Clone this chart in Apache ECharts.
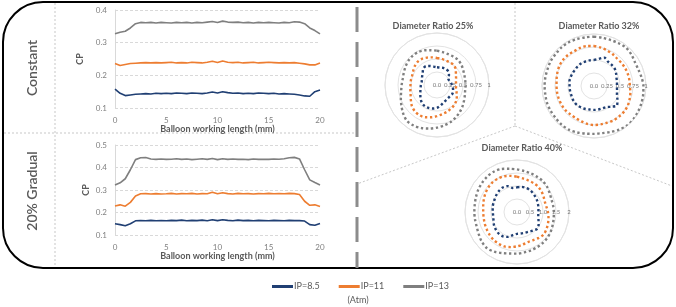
<!DOCTYPE html>
<html>
<head>
<meta charset="utf-8">
<script src="https://cdn.jsdelivr.net/npm/echarts@6/dist/echarts.min.js"></script>
<style>
  html, body { margin: 0; padding: 0; background: #fff; }
  #chart { width: 676px; height: 307px; }
</style>
</head>
<body>
<div id="chart"></div>
<script>
// balloon working length (mm)
var lengthMm = [0, 0.5, 1, 1.5, 2, 2.5, 3, 3.5, 4, 4.5, 5, 5.5, 6, 6.5, 7, 7.5, 8, 8.5, 9, 9.5,
  10, 10.5, 11, 11.5, 12, 12.5, 13, 13.5, 14, 14.5, 15, 15.5, 16, 16.5, 17, 17.5, 18, 18.5, 19, 19.5, 20];

// Constant profile, CP
var constIP85 = [0.158, 0.145, 0.138, 0.140, 0.142, 0.143, 0.144, 0.143, 0.145, 0.144, 0.145, 0.144, 0.146, 0.145, 0.144, 0.146, 0.145, 0.144, 0.146, 0.149,
  0.146, 0.150, 0.147, 0.145, 0.146, 0.144, 0.145, 0.144, 0.146, 0.145, 0.144, 0.145, 0.143, 0.144, 0.143, 0.142, 0.140, 0.137, 0.136, 0.150, 0.155];
var constIP11 = [0.236, 0.230, 0.233, 0.236, 0.237, 0.238, 0.239, 0.238, 0.239, 0.238, 0.239, 0.240, 0.238, 0.239, 0.238, 0.240, 0.239, 0.238, 0.240, 0.243,
  0.239, 0.244, 0.240, 0.239, 0.240, 0.238, 0.239, 0.240, 0.238, 0.239, 0.240, 0.239, 0.238, 0.239, 0.238, 0.239, 0.237, 0.235, 0.232, 0.232, 0.238];
var constIP13 = [0.327, 0.332, 0.335, 0.345, 0.358, 0.362, 0.361, 0.362, 0.360, 0.362, 0.361, 0.360, 0.362, 0.361, 0.362, 0.360, 0.362, 0.361, 0.363, 0.365,
  0.362, 0.366, 0.363, 0.362, 0.363, 0.361, 0.362, 0.360, 0.362, 0.361, 0.362, 0.361, 0.360, 0.362, 0.361, 0.364, 0.363, 0.358, 0.345, 0.337, 0.327];

// 20% Gradual profile, CP
var gradIP85 = [0.150, 0.146, 0.141, 0.150, 0.163, 0.164, 0.163, 0.165, 0.163, 0.164, 0.163, 0.165, 0.164, 0.166, 0.163, 0.165, 0.164, 0.166, 0.163, 0.168,
  0.164, 0.168, 0.165, 0.163, 0.166, 0.164, 0.165, 0.163, 0.165, 0.164, 0.163, 0.165, 0.164, 0.163, 0.165, 0.164, 0.164, 0.162, 0.146, 0.143, 0.151];
var gradIP11 = [0.229, 0.234, 0.228, 0.245, 0.273, 0.283, 0.284, 0.282, 0.284, 0.282, 0.283, 0.285, 0.282, 0.284, 0.283, 0.285, 0.282, 0.284, 0.283, 0.290,
  0.283, 0.288, 0.284, 0.282, 0.285, 0.283, 0.284, 0.282, 0.284, 0.283, 0.285, 0.283, 0.284, 0.283, 0.285, 0.284, 0.280, 0.250, 0.232, 0.234, 0.227];
var gradIP13 = [0.322, 0.332, 0.350, 0.390, 0.435, 0.443, 0.444, 0.438, 0.436, 0.438, 0.436, 0.437, 0.439, 0.436, 0.438, 0.435, 0.437, 0.439, 0.436, 0.440,
  0.435, 0.439, 0.436, 0.438, 0.436, 0.437, 0.435, 0.438, 0.436, 0.437, 0.436, 0.438, 0.437, 0.439, 0.443, 0.445, 0.438, 0.390, 0.345, 0.333, 0.322];

// cross-section angle, degrees clockwise from top
var angles = [0, 10, 20, 30, 40, 50, 60, 70, 80, 90, 100, 110, 120, 130, 140, 150, 160, 170,
  180, 190, 200, 210, 220, 230, 240, 250, 260, 270, 280, 290, 300, 310, 320, 330, 340, 350];

// Diameter Ratio 25%
var dr25IP85 = [0.34, 0.34, 0.35, 0.35, 0.34, 0.30, 0.25, 0.25, 0.27, 0.29, 0.31, 0.33, 0.34, 0.33, 0.33, 0.34, 0.36, 0.40,
  0.44, 0.46, 0.47, 0.47, 0.45, 0.41, 0.37, 0.34, 0.32, 0.31, 0.30, 0.31, 0.33, 0.36, 0.41, 0.42, 0.39, 0.36];
var dr25IP11 = [0.52, 0.51, 0.50, 0.50, 0.50, 0.47, 0.42, 0.39, 0.37, 0.37, 0.37, 0.40, 0.44, 0.48, 0.51, 0.53, 0.55, 0.57,
  0.60, 0.63, 0.66, 0.67, 0.66, 0.63, 0.58, 0.54, 0.52, 0.51, 0.51, 0.51, 0.53, 0.56, 0.58, 0.58, 0.56, 0.54];
var dr25IP13 = [0.66, 0.64, 0.63, 0.63, 0.63, 0.61, 0.58, 0.56, 0.55, 0.55, 0.55, 0.57, 0.60, 0.64, 0.68, 0.72, 0.76, 0.79,
  0.82, 0.85, 0.88, 0.90, 0.90, 0.85, 0.79, 0.74, 0.70, 0.68, 0.67, 0.68, 0.70, 0.72, 0.73, 0.73, 0.71, 0.68];

// Diameter Ratio 32%
var dr32IP85 = [0.50, 0.53, 0.58, 0.54, 0.53, 0.52, 0.49, 0.46, 0.45, 0.44, 0.45, 0.47, 0.52, 0.58, 0.52, 0.47, 0.46, 0.46,
  0.46, 0.46, 0.47, 0.48, 0.49, 0.49, 0.48, 0.47, 0.47, 0.47, 0.48, 0.48, 0.48, 0.48, 0.49, 0.50, 0.50, 0.50];
var dr32IP11 = [0.77, 0.75, 0.73, 0.71, 0.69, 0.69, 0.69, 0.69, 0.69, 0.69, 0.71, 0.73, 0.75, 0.76, 0.76, 0.76, 0.75, 0.75,
  0.75, 0.74, 0.72, 0.71, 0.71, 0.72, 0.72, 0.72, 0.72, 0.72, 0.73, 0.75, 0.77, 0.78, 0.78, 0.77, 0.78, 0.78];
var dr32IP13 = [0.95, 0.94, 0.94, 0.95, 0.96, 0.94, 0.91, 0.91, 0.93, 0.95, 0.96, 0.97, 0.98, 0.99, 0.99, 0.97, 0.94, 0.92,
  0.92, 0.93, 0.95, 0.97, 0.97, 0.96, 0.96, 0.96, 0.95, 0.95, 0.95, 0.95, 0.96, 0.96, 0.97, 0.97, 0.96, 0.95];

// Diameter Ratio 40%
var dr40IP85 = [0.95, 0.98, 0.99, 0.98, 0.95, 0.92, 0.89, 0.86, 0.84, 0.82, 0.83, 0.88, 0.96, 1.01, 0.94, 0.88, 0.85, 0.84,
  0.84, 0.90, 1.02, 1.08, 1.09, 1.06, 1.02, 0.96, 0.93, 0.93, 0.95, 0.97, 0.99, 1.03, 1.07, 1.09, 1.06, 0.94];
var dr40IP11 = [1.36, 1.31, 1.29, 1.28, 1.27, 1.23, 1.18, 1.14, 1.15, 1.19, 1.23, 1.27, 1.31, 1.34, 1.30, 1.25, 1.23, 1.27,
  1.32, 1.37, 1.41, 1.41, 1.40, 1.37, 1.34, 1.32, 1.30, 1.30, 1.32, 1.36, 1.41, 1.45, 1.48, 1.48, 1.46, 1.41];
var dr40IP13 = [1.64, 1.60, 1.58, 1.56, 1.55, 1.51, 1.45, 1.41, 1.41, 1.42, 1.43, 1.46, 1.50, 1.53, 1.55, 1.56, 1.57, 1.58,
  1.60, 1.62, 1.68, 1.76, 1.81, 1.77, 1.70, 1.65, 1.64, 1.64, 1.65, 1.68, 1.72, 1.75, 1.78, 1.79, 1.76, 1.69];

var seriesNames = ['IP=8.5', 'IP=11', 'IP=13'];
var colors = ['#203f73', '#ed7d31', '#7f7f7f'];
var FONT = 'Lato, "Open Sans", sans-serif';
var TXT = '#595959';

function lineData(vals) {
  return lengthMm.map((x, i) => [x, vals[i]]);
}

// polar angle axis starts at the right, so shift "from top" angles by 270
function ringData(vals) {
  var d = angles.map((a, i) => [vals[i], (a + 270) % 360]);
  d.push(d[0]);
  return d;
}

var chart = echarts.init(document.getElementById('chart'));

function cartAxes(gridIndex, yMin, yMax, cpGap, nameGap) {
  return {
    x: {
      type: 'value', gridIndex: gridIndex, min: 0, max: 20, interval: 5,
      name: 'Balloon working length (mm)', nameLocation: 'middle', nameGap: nameGap,
      nameTextStyle: { color: TXT, fontSize: 9, fontWeight: 'bold', fontFamily: FONT },
      axisLine: { show: false }, axisTick: { show: false }, splitLine: { show: false },
      axisLabel: { color: '#808080', fontSize: 8, fontFamily: FONT, margin: 8 }
    },
    y: {
      type: 'value', gridIndex: gridIndex, min: yMin, max: yMax, interval: 0.1,
      name: 'CP', nameLocation: 'middle', nameGap: cpGap,
      nameTextStyle: { color: TXT, fontSize: 9, fontWeight: 'bold', fontFamily: FONT },
      axisLine: { show: true, lineStyle: { color: '#d9d9d9' } }, axisTick: { show: false },
      splitLine: { show: true, lineStyle: { color: '#d9d9d9', type: [3, 2] } },
      axisLabel: { color: '#808080', fontSize: 8, fontFamily: FONT, margin: 8, formatter: v => v.toFixed(1) }
    }
  };
}

var topAxes = cartAxes(0, 0.1, 0.4, 30, 15);
var botAxes = cartAxes(1, 0.1, 0.5, 24, 17);

var polarCenters = [[437, 85], [594, 86], [517, 212]];
var polarMax = [1, 1, 2];
var polarStep = [0.25, 0.25, 0.5];

var angleAxes = polarCenters.map((c, i) => ({
  polarIndex: i, type: 'value', min: 0, max: 360, startAngle: 0, clockwise: true,
  axisLine: { show: true, lineStyle: { color: '#e3e3e3' } },
  axisTick: { show: false }, axisLabel: { show: false }, splitLine: { show: false }
}));
var radiusAxes = polarCenters.map((c, i) => ({
  polarIndex: i, type: 'value', min: 0, max: polarMax[i], interval: polarStep[i],
  axisLine: { show: false }, axisTick: { show: false },
  splitLine: { show: true, lineStyle: { color: '#e3e3e3', width: 1 } },
  axisLabel: {
    show: true, showMinLabel: true, showMaxLabel: true, color: '#777', fontSize: 6, fontFamily: FONT,
    margin: 0, align: 'center', verticalAlign: 'middle',
    formatter: function (v) {
      if (v === 0) return '0.0';
      if (i === 2 && v !== 2) return v.toFixed(1);
      return String(v);
    }
  }
}));

var series = [];
[constIP85, constIP11, constIP13].forEach((vals, k) => {
  series.push({ name: seriesNames[k], type: 'line', xAxisIndex: 0, yAxisIndex: 0, data: lineData(vals),
    showSymbol: false, lineStyle: { color: colors[k], width: 1.6 }, itemStyle: { color: colors[k] } });
});
[gradIP85, gradIP11, gradIP13].forEach((vals, k) => {
  series.push({ name: seriesNames[k], type: 'line', xAxisIndex: 1, yAxisIndex: 1, data: lineData(vals),
    showSymbol: false, lineStyle: { color: colors[k], width: 1.6 }, itemStyle: { color: colors[k] } });
});
[[dr25IP85, dr25IP11, dr25IP13], [dr32IP85, dr32IP11, dr32IP13], [dr40IP85, dr40IP11, dr40IP13]].forEach((group, p) => {
  group.forEach((vals, k) => {
    series.push({ name: seriesNames[k], type: 'line', coordinateSystem: 'polar', polarIndex: p,
      data: ringData(vals), showSymbol: false, smooth: 0.3, clip: false,
      lineStyle: { color: colors[k], width: 2.4, type: [2.4, 2.6], cap: 'butt' }, itemStyle: { color: colors[k] } });
  });
});

function divider(x1, y1, x2, y2) {
  return { type: 'line', silent: true, z: -1, shape: { x1: x1, y1: y1, x2: x2, y2: y2 },
    style: { stroke: '#c8c8c8', lineWidth: 1, lineDash: [2, 2] } };
}

chart.setOption({
  animation: false,
  backgroundColor: '#fff',
  textStyle: { fontFamily: FONT },
  title: [
    { text: 'Diameter Ratio 25%', left: 428, top: 17, textAlign: 'center',
      textStyle: { fontSize: 9, fontWeight: 'bold', color: TXT, fontFamily: FONT } },
    { text: 'Diameter Ratio 32%', left: 594, top: 17, textAlign: 'center',
      textStyle: { fontSize: 9, fontWeight: 'bold', color: TXT, fontFamily: FONT } },
    { text: 'Diameter Ratio 40%', left: 517, top: 139, textAlign: 'center',
      textStyle: { fontSize: 9, fontWeight: 'bold', color: TXT, fontFamily: FONT } },
    { text: '(Atm)', left: 353, top: 291, textAlign: 'center',
      textStyle: { fontSize: 9, fontWeight: 'normal', color: TXT, fontFamily: FONT } }
  ],
  legend: {
    data: seriesNames, left: 267, top: 277, icon: 'rect', itemWidth: 21, itemHeight: 3, itemGap: 19,
    textStyle: { fontSize: 9, color: TXT, fontFamily: FONT, padding: [0, 0, 0, -4] }
  },
  grid: [
    { left: 115, right: 356, top: 10, height: 98 },
    { left: 115, right: 356, top: 145, height: 90 }
  ],
  xAxis: [topAxes.x, botAxes.x],
  yAxis: [topAxes.y, botAxes.y],
  polar: polarCenters.map(c => ({ center: c, radius: 52 })),
  angleAxis: angleAxes,
  radiusAxis: radiusAxes,
  series: series,
  graphic: [
    { type: 'rect', silent: true, z: -1, shape: { x: 3, y: 2, width: 670, height: 266, r: 40 },
      style: { fill: null, stroke: '#000', lineWidth: 2 } },
    divider(55, 3, 55, 267),
    divider(4, 133, 357, 133),
    divider(515, 3, 515, 126),
    divider(515, 126, 357, 184),
    divider(515, 126, 672, 186),
    { type: 'line', silent: true, z: -1, shape: { x1: 357, y1: 7, x2: 357, y2: 268 },
      style: { stroke: '#8c8c8c', lineWidth: 3, lineDash: [25, 10] } },
    { type: 'text', silent: true, x: 32, y: 68, rotation: Math.PI / 2,
      style: { text: 'Constant', fontSize: 14, fontWeight: 600, fontFamily: FONT, fill: TXT, align: 'center', verticalAlign: 'middle' } },
    { type: 'text', silent: true, x: 32, y: 191, rotation: Math.PI / 2,
      style: { text: '20% Gradual', fontSize: 14, fontWeight: 600, fontFamily: FONT, fill: TXT, align: 'center', verticalAlign: 'middle' } }
  ]
});
</script>
</body>
</html>
